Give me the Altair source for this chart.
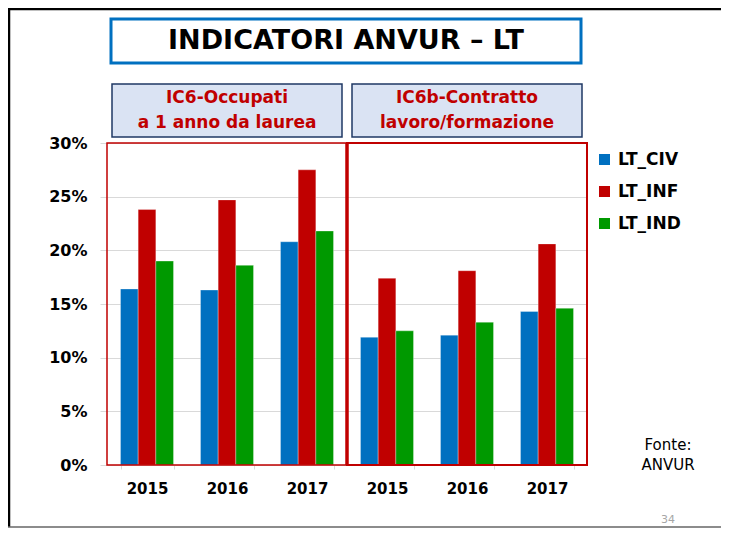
import altair as alt
import pandas as pd

# ---------------- data ----------------
panels = ["IC6", "IC6b"]
years = ["2015", "2016", "2017"]
series = ["LT_CIV", "LT_INF", "LT_IND"]
colors = ["#0070C0", "#C00000", "#009900"]
y_ticks = [0, 0.05, 0.10, 0.15, 0.20, 0.25, 0.30]

ic6_civ = [0.164, 0.163, 0.208]
ic6_inf = [0.238, 0.247, 0.275]
ic6_ind = [0.190, 0.186, 0.218]
ic6b_civ = [0.119, 0.121, 0.143]
ic6b_inf = [0.174, 0.181, 0.206]
ic6b_ind = [0.125, 0.133, 0.146]

title_text = "INDICATORI ANVUR – LT"
header_1 = ["IC6-Occupati", "a 1 anno da laurea"]
header_2 = ["IC6b-Contratto", "lavoro/formazione"]
source_lines = ["Fonte:", "ANVUR"]
page_number = "34"

FONT = "DejaVu Sans"

values = {
    ("IC6", "LT_CIV"): ic6_civ, ("IC6", "LT_INF"): ic6_inf, ("IC6", "LT_IND"): ic6_ind,
    ("IC6b", "LT_CIV"): ic6b_civ, ("IC6b", "LT_INF"): ic6b_inf, ("IC6b", "LT_IND"): ic6b_ind,
}
rows = []
keys = []
for p in panels:
    for i, yr in enumerate(years):
        k = f"{p}|{yr}"
        keys.append(k)
        for s in series:
            rows.append({"key": k, "series": s, "value": values[(p, s)][i]})
df = pd.DataFrame(rows)

W, H = 480, 322

bars = alt.Chart(df).mark_bar(stroke="white", strokeWidth=0.6, strokeOpacity=0.5).encode(
    x=alt.X("key:N", sort=keys, title=None,
            scale=alt.Scale(paddingInner=0.3375, paddingOuter=0.16875),
            axis=alt.Axis(labelExpr="split(datum.label, '|')[1]", labelAngle=0,
                          labelFont=FONT, labelFontSize=15, labelFontWeight="bold",
                          labelColor="black", labelPadding=12, tickBand="extent",
                          tickSize=4, tickColor="#d9d9d9", domain=False, grid=False)),
    xOffset=alt.XOffset("series:N", sort=series, scale=alt.Scale(paddingInner=0, paddingOuter=0)),
    y=alt.Y("value:Q", title=None, scale=alt.Scale(domain=[0, 0.3], nice=False),
            axis=alt.Axis(values=y_ticks, format=".0%", labelFont=FONT, labelFontSize=16,
                          labelFontWeight="bold", labelColor="black", labelPadding=13,
                          tickSize=7, tickColor="#d9d9d9", domain=False,
                          grid=True, gridColor="#d9d9d9", gridWidth=1)),
    color=alt.Color("series:N", sort=series, scale=alt.Scale(domain=series, range=colors),
                    legend=alt.Legend(title=None, orient="none", legendX=489, legendY=8,
                                      padding=0, symbolType="square", symbolSize=121,
                                      symbolStrokeWidth=0, labelFont=FONT, labelFontSize=17,
                                      labelFontWeight="bold", labelColor="black",
                                      rowPadding=14, labelOffset=5)),
)

one = pd.DataFrame({"a": [0]})

def rect(x, x2, y, y2, **kw):
    return alt.Chart(one).mark_rect(**kw).encode(
        x=alt.value(x), x2=alt.value(x2), y=alt.value(y), y2=alt.value(y2))

def text(x, y, t, **kw):
    return alt.Chart(one).mark_text(text=t, font=FONT, **kw).encode(x=alt.value(x), y=alt.value(y))

# panel borders
left_border = rect(0, 240, 0, H, fill=None, filled=False, stroke="#C00000", strokeWidth=1.5)
right_border = rect(240, 480, 0, H, fill=None, filled=False, stroke="#C00000", strokeWidth=2)
mid_line = alt.Chart(one).mark_rule(color="#C00000", strokeWidth=3.5).encode(
    x=alt.value(240), y=alt.value(0), y2=alt.value(H))

# title box
title_box = rect(4, 474, -124, -80, fill="white", stroke="#0070C0", strokeWidth=3)
title_txt = text(239, -102, title_text, fontSize=27, fontWeight="bold", color="black",
                 align="center", baseline="middle")

# headers
hdr_box1 = rect(5, 235, -59, -6, fill="#DAE3F3", stroke="#1F3864", strokeWidth=1.5)
hdr_box2 = rect(245, 475, -59, -6, fill="#DAE3F3", stroke="#1F3864", strokeWidth=1.5)
hdr_t1 = text(120, -45, header_1, fontSize=17, fontWeight="bold", color="#C00000",
              align="center", baseline="middle", lineHeight=25)
hdr_t2 = text(360, -45, header_2, fontSize=17, fontWeight="bold", color="#C00000",
              align="center", baseline="middle", lineHeight=25)

# source + page number
src = text(561, 302, source_lines, fontSize=15, color="black", align="center",
           baseline="middle", lineHeight=20)
pg = text(561, 377, page_number, fontSize=11, color="#a6a6a6", align="center", baseline="middle")

# slide frame
frame_left = alt.Chart(one).mark_rule(color="black", strokeWidth=2.5).encode(
    x=alt.value(-98), y=alt.value(-134), y2=alt.value(384))
frame_top = alt.Chart(one).mark_rule(color="black", strokeWidth=2.5).encode(
    x=alt.value(-99), x2=alt.value(614), y=alt.value(-134))
frame_bottom = alt.Chart(one).mark_rule(color="#666666", strokeWidth=1.5).encode(
    x=alt.value(-99), x2=alt.value(614), y=alt.value(384))

chart = alt.layer(
    bars, left_border, right_border, mid_line, title_box, title_txt,
    hdr_box1, hdr_box2, hdr_t1, hdr_t2, src, pg, frame_left, frame_top, frame_bottom
).properties(
    width=W, height=H,
    autosize=alt.AutoSizeParams(type="none"),
    padding={"left": 99, "top": 135, "right": 134, "bottom": 63},
    background="white",
).configure_view(stroke=None)

chart.save("out.html", embed_options={"renderer": "svg", "actions": False})
